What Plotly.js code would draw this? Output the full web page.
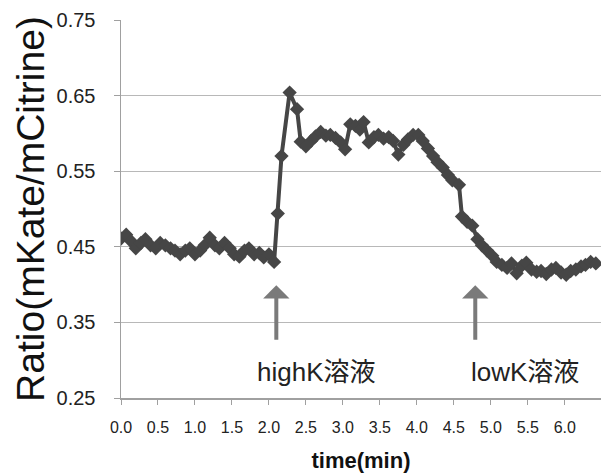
<!DOCTYPE html>
<html>
<head>
<meta charset="utf-8">
<script src="https://cdn.plot.ly/plotly-3.0.1.min.js"></script>
<style>html,body{margin:0;padding:0;background:#fff}#chart{width:601px;height:474px}</style>
</head>
<body>
<div id="chart"></div>
<script>
var timeMin = [0, 0.07, 0.13, 0.2, 0.27, 0.33, 0.4, 0.47, 0.53, 0.6, 0.67, 0.73, 0.8, 0.87, 0.93, 1.0,
  1.07, 1.13, 1.2, 1.27, 1.33, 1.4, 1.47, 1.53, 1.6, 1.67, 1.73, 1.8, 1.87, 1.93, 2.0, 2.07,
  2.12, 2.17, 2.28, 2.38, 2.43, 2.5, 2.57, 2.63, 2.7, 2.77, 2.83, 2.9, 2.97, 3.03, 3.1, 3.17,
  3.23, 3.28, 3.35, 3.42, 3.48, 3.55, 3.62, 3.68, 3.75, 3.82, 3.88, 3.95, 4.02, 4.08, 4.15,
  4.22, 4.28, 4.35, 4.42, 4.48, 4.57, 4.61, 4.68, 4.75, 4.82, 4.88, 4.95, 5.02, 5.08, 5.15,
  5.22, 5.28, 5.35, 5.42, 5.48, 5.55, 5.62, 5.68, 5.75, 5.82, 5.88, 5.95, 6.02, 6.08, 6.15,
  6.22, 6.28, 6.35, 6.42];
var ratio = [0.461, 0.466, 0.458, 0.448, 0.455, 0.46, 0.452, 0.448, 0.455, 0.452, 0.448, 0.445, 0.44, 0.445, 0.448, 0.44,
  0.445, 0.452, 0.462, 0.452, 0.448, 0.455, 0.448, 0.44, 0.437, 0.445, 0.448, 0.44, 0.442, 0.436, 0.44, 0.43,
  0.494, 0.57, 0.654, 0.632, 0.589, 0.583, 0.59, 0.596, 0.602, 0.597, 0.598, 0.594, 0.588, 0.579, 0.612, 0.61,
  0.605, 0.615, 0.588, 0.595, 0.598, 0.593, 0.595, 0.59, 0.572, 0.585, 0.592, 0.598, 0.598, 0.59, 0.58,
  0.57, 0.562, 0.555, 0.545, 0.538, 0.532, 0.49, 0.483, 0.478, 0.46, 0.452, 0.445, 0.438, 0.43, 0.426,
  0.422, 0.428, 0.415, 0.425, 0.429, 0.42, 0.417, 0.418, 0.414, 0.42, 0.422, 0.416, 0.413, 0.418, 0.42,
  0.424, 0.426, 0.43, 0.428];

var xTicks = [0, 0.5, 1, 1.5, 2, 2.5, 3, 3.5, 4, 4.5, 5, 5.5, 6];
var xTickText = ["0.0", "0.5", "1.0", "1.5", "2.0", "2.5", "3.0", "3.5", "4.0", "4.5", "5.0", "5.5", "6.0"];
var yTicks = [0.25, 0.35, 0.45, 0.55, 0.65, 0.75];
var yTickText = ["0.25", "0.35", "0.45", "0.55", "0.65", "0.75"];

var eventTimes = [2.1, 4.79];
var eventLabels = ["highK溶液", "lowK溶液"];
var eventLabelX = [2.64, 5.46];

var trace = {
  x: timeMin, y: ratio, type: 'scatter', mode: 'lines+markers',
  line: {color: '#464646', width: 4},
  marker: {symbol: 'diamond', size: 11, color: '#464646'},
  hoverinfo: 'skip', showlegend: false
};

var annotations = [];
for (var i = 0; i < eventTimes.length; i++) {
  annotations.push({
    x: eventTimes[i], y: 0.399, xref: 'x', yref: 'y', text: '',
    showarrow: true, ax: 0, ay: 56, arrowhead: 1, arrowsize: 1.1, arrowwidth: 4, arrowcolor: '#7a7a7a'
  });
  annotations.push({
    x: eventLabelX[i], y: 0.284, xref: 'x', yref: 'y', text: eventLabels[i], showarrow: false,
    font: {family: 'Liberation Sans, Noto Sans CJK JP, sans-serif', size: 26, color: '#222'}
  });
}

var layout = {
  width: 601, height: 474,
  margin: {l: 121, r: 0, t: 20, b: 76},
  paper_bgcolor: '#fff', plot_bgcolor: '#fff',
  xaxis: {
    range: [0, 6.49], tickmode: 'array', tickvals: xTicks, ticktext: xTickText,
    showgrid: false, zeroline: false, showline: true, linecolor: '#a0a0a0', linewidth: 1.5,
    ticks: 'outside', ticklen: 5, tickcolor: '#a0a0a0', ticklabelstandoff: 9,
    tickfont: {family: 'Liberation Sans, sans-serif', size: 16, color: '#222'},
    title: {text: '<b>time(min)</b>', standoff: 18, font: {family: 'Liberation Sans, sans-serif', size: 22, color: '#111'}}
  },
  yaxis: {
    range: [0.25, 0.75], tickmode: 'array', tickvals: yTicks, ticktext: yTickText,
    showgrid: true, gridcolor: '#b8b8b8', gridwidth: 1.2, zeroline: false,
    showline: true, linecolor: '#a0a0a0', linewidth: 1.5,
    ticks: 'outside', ticklen: 6, tickcolor: '#a0a0a0', ticklabelstandoff: 14,
    tickfont: {family: 'Liberation Sans, sans-serif', size: 20, color: '#222'},
    title: {text: 'Ratio(mKate/mCitrine)', standoff: 0, font: {family: 'Liberation Sans, sans-serif', size: 39, color: '#111'}}
  },
  annotations: annotations
};

Plotly.newPlot('chart', [trace], layout, {staticPlot: true, displayModeBar: false});
</script>
</body>
</html>
